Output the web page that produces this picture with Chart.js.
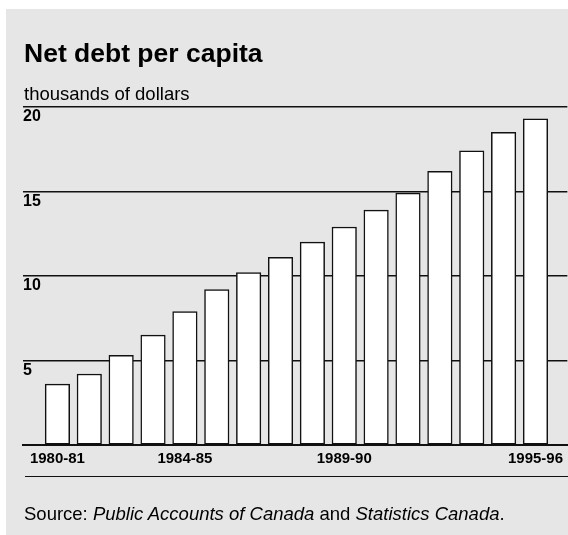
<!DOCTYPE html>
<html>
<head>
<meta charset="utf-8">
<script src="https://cdn.jsdelivr.net/npm/chart.js@4/dist/chart.umd.min.js"></script>
<style>
  html, body { margin: 0; padding: 0; overflow: hidden; background: #fff; }
  body { width: 568px; height: 535px; position: relative; font-family: "Liberation Sans", Arial, sans-serif; color: #000; }
  .panel { position: absolute; left: 6px; top: 9px; width: 562px; height: 526px; background: #e6e6e6; }
  .wrap { position: absolute; left: 0; top: 0; width: 568px; height: 535px; }
  .txt { position: absolute; left: 24px; white-space: nowrap; line-height: 1; }
  .title { top: 39.5px; font-size: 26.5px; font-weight: bold; }
  .unit { top: 85px; font-size: 18.5px; }
  .source { top: 504.5px; font-size: 18.5px; }
  .rule { position: absolute; left: 25px; top: 476px; width: 543px; border-top: 1.5px solid #111; }
</style>
</head>
<body>
<div class="panel"></div>
<div class="wrap"><canvas id="chart"></canvas></div>
<div class="txt title">Net debt per capita</div>
<div class="txt unit">thousands of dollars</div>
<div class="rule"></div>
<div class="txt source">Source: <i>Public Accounts of Canada</i> and <i>Statistics Canada</i>.</div>

<script>
// fiscal years, one bar each
const years = [
    '1980-81', '1981-82', '1982-83', '1983-84', '1984-85', '1985-86', '1986-87', '1987-88',
    '1988-89', '1989-90', '1990-91', '1991-92', '1992-93', '1993-94', '1994-95', '1995-96'
];

// net debt per capita, thousands of dollars
const netDebt = [3.6, 4.2, 5.3, 6.5, 7.9, 9.2, 10.2, 11.1, 12.0, 12.9, 13.9, 14.9, 16.2, 17.4, 18.5, 19.3];

// which years get a label under the axis
const labelledYears = ['1980-81', '1984-85', '1989-90', '1995-96'];

// y axis ticks
const yTicks = [0, 5, 10, 15, 20];

const INK = '#111';

new Chart(document.getElementById('chart'), {
    type: 'bar',
    data: {
        datasets: [{
            data: netDebt.map((v, i) => ({ x: i, y: v })),
            backgroundColor: '#ffffff',
            borderColor: INK,
            borderWidth: 1.5,
            borderSkipped: false,
            barThickness: 24.5,
        }],
    },
    options: {
        responsive: true,
        maintainAspectRatio: false,
        animation: false,
        layout: { padding: { left: 23, top: 107, right: 0, bottom: 62 } },
        plugins: {
            legend: { display: false },
            tooltip: { enabled: false },
        },
        scales: {
            x: {
                type: 'linear',
                offset: false,
                min: -1.08,
                max: 16,
                grid: { display: false, drawTicks: false, offset: false },
                border: { display: true, color: INK, width: 2 },
                afterBuildTicks: scale => {
                    scale.ticks = labelledYears.map(y => ({ value: years.indexOf(y) }));
                },
                ticks: {
                    padding: 5,
                    maxRotation: 0,
                    autoSkip: false,
                    color: '#000',
                    font: { family: 'Liberation Sans', size: 15, weight: 'bold' },
                    callback: v => years[v],
                },
            },
            y: {
                min: yTicks[0],
                max: yTicks[yTicks.length - 1],
                afterBuildTicks: scale => {
                    scale.ticks = yTicks.map(v => ({ value: v }));
                },
                grid: { color: INK, lineWidth: 1.5, drawTicks: false },
                border: { display: false },
                ticks: {
                    mirror: true,
                    padding: 0,
                    labelOffset: 10,
                    color: '#000',
                    font: { family: 'Liberation Sans', size: 16, weight: 'bold' },
                    callback: v => (v === 0 ? '' : v),
                },
            },
        },
    },
});
</script>
</body>
</html>
